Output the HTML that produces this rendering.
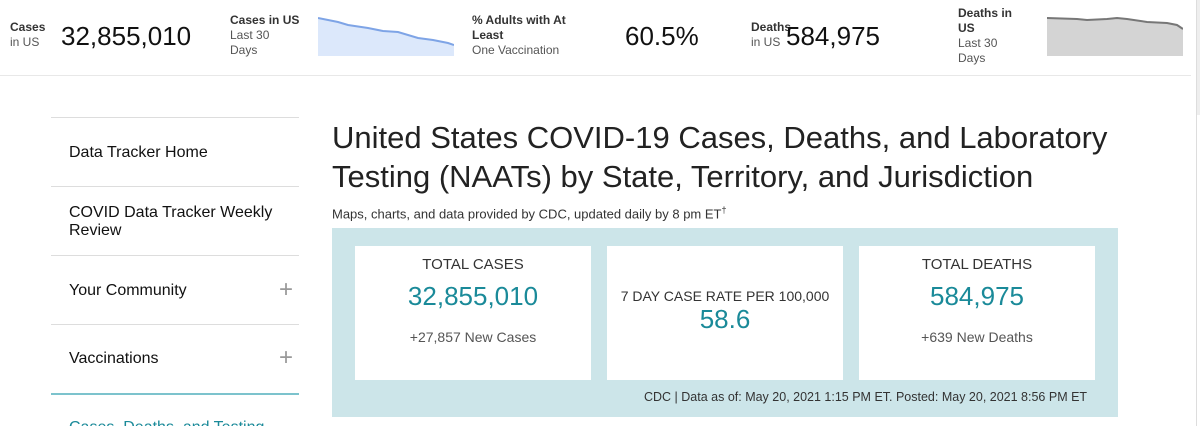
<!DOCTYPE html>
<html><head><style>
html,body{margin:0;width:1200px;height:426px;overflow:hidden}
body{background:#fff;font-family:"Liberation Sans",sans-serif;color:#000;position:relative}
.a{position:absolute;white-space:nowrap}
.lbl{font-size:12px;color:#555;line-height:15px}
.lbl b{color:#333}
.big{font-size:26px;color:#111}
.nav{position:absolute;left:51px;width:248px;border-top:1px solid #ddd}
.nt{position:absolute;left:69px;font-size:16px;color:#111;line-height:18px}
.plus{position:absolute;left:279px;font-size:24px;color:#999}
.card{position:absolute;top:246px;width:236px;height:134px;background:#fff;text-align:center;color:#333}
.card .h{font-size:15px;margin-top:10px}
.card .n{font-size:26px;color:#1a8a99;margin-top:8px}
.card .s{font-size:14px;color:#555;margin-top:17px}
</style></head><body>
<div class="a lbl" style="left:10px;top:20px"><b>Cases</b><br>in US</div>
<div class="a big" style="left:61px;top:21px">32,855,010</div>
<div class="a lbl" style="left:230px;top:13px"><b>Cases in US</b><br>Last 30<br>Days</div>
<svg class="a" style="left:318px;top:16px" width="136" height="40"><polygon points="0,2 20,6 30,9 50,12 65,15 80,16 100,22 115,24 130,27 136,29 136,40 0,40" fill="#dce8fb"/><polyline points="0,2 20,6 30,9 50,12 65,15 80,16 100,22 115,24 130,27 136,29" fill="none" stroke="#7ea4e6" stroke-width="2"/></svg>
<div class="a lbl" style="left:472px;top:13px"><b>% Adults with At<br>Least</b><br>One Vaccination</div>
<div class="a big" style="left:625px;top:21px">60.5%</div>
<div class="a lbl" style="left:751px;top:20px"><b>Deaths</b><br>in US</div>
<div class="a big" style="left:786px;top:21px">584,975</div>
<div class="a lbl" style="left:958px;top:6px"><b>Deaths in<br>US</b><br>Last 30<br>Days</div>
<svg class="a" style="left:1047px;top:16px" width="136" height="40"><polygon points="0,2 30,3 40,4 60,3 70,2 80,3 100,6 120,7 130,9 136,13 136,40 0,40" fill="#d4d4d4"/><polyline points="0,2 30,3 40,4 60,3 70,2 80,3 100,6 120,7 130,9 136,13" fill="none" stroke="#777" stroke-width="2"/></svg>
<div class="a" style="left:0;top:75px;width:1191px;height:1px;background:#e8e8e8"></div>
<div class="a" style="left:1196px;top:0;width:1px;height:426px;background:#ddd"></div>
<div class="a" style="left:1197px;top:0;width:3px;height:115px;background:#eee"></div>

<div class="nav" style="top:117px"></div>
<div class="nt" style="top:144px">Data Tracker Home</div>
<div class="nav" style="top:186px"></div>
<div class="nt" style="top:204px">COVID Data Tracker Weekly<br>Review</div>
<div class="nav" style="top:255px"></div>
<div class="nt" style="top:282px">Your Community</div><div class="plus" style="top:276px">+</div>
<div class="nav" style="top:324px"></div>
<div class="nt" style="top:350px">Vaccinations</div><div class="plus" style="top:344px">+</div>
<div class="nav" style="top:393px;border-top:2px solid #7cc3cd"></div>
<div class="nt" style="top:419px;color:#1a8a99">Cases, Deaths, and Testing</div>

<div class="a" style="left:332px;top:118px;font-size:31px;line-height:39px;color:#222">United States COVID-19 Cases, Deaths, and Laboratory<br>Testing (NAATs) by State, Territory, and Jurisdiction</div>
<div class="a" style="left:332px;top:205px;font-size:13px;color:#333">Maps, charts, and data provided by CDC, updated daily by 8 pm ET<sup style="font-size:9px">†</sup></div>
<div class="a" style="left:332px;top:228px;width:786px;height:189px;background:#cce5e9"></div>
<div class="card" style="left:355px"><div class="h">TOTAL CASES</div><div class="n">32,855,010</div><div class="s">+27,857 New Cases</div></div>
<div class="card" style="left:607px"><div class="h" style="margin-top:42px;font-size:14px">7 DAY CASE RATE PER 100,000</div><div class="n" style="margin-top:0">58.6</div></div>
<div class="card" style="left:859px"><div class="h">TOTAL DEATHS</div><div class="n">584,975</div><div class="s">+639 New Deaths</div></div>
<div class="a" style="left:644px;top:390px;font-size:12.5px;color:#333">CDC | Data as of: May 20, 2021 1:15 PM ET. Posted: May 20, 2021 8:56 PM ET</div>
</body></html>
